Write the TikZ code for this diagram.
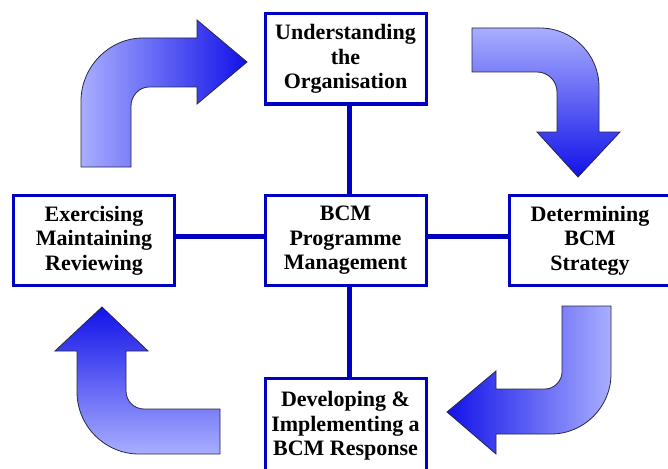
\documentclass[tikz,border=0pt]{standalone}
\usepackage{fontspec}
\setmainfont{Liberation Serif}
\usepackage{tikz}
\usetikzlibrary{positioning}
\definecolor{boxblue}{RGB}{0,0,195}
\definecolor{arrowlight}{RGB}{168,174,255}
\definecolor{arrowdark}{RGB}{18,18,232}
\definecolor{arrowline}{RGB}{40,40,70}

\begin{document}
\begin{tikzpicture}
      [x=1pt, y=-1pt,
      box style/.style={draw=boxblue, line width=3pt, rectangle, align=center, fill=white,
        minimum width=161pt, minimum height=90pt, inner sep=2pt,
        font=\fontsize{22}{24.5}\selectfont\bfseries},
      link style/.style={draw=boxblue, line width=5pt},
      arrow style/.style={draw=arrowline, line width=0.8pt, line join=miter},
      ]
      \useasboundingbox (0,0) rectangle (668,468);

      \node[box style] (organisation) at (345.5,59) {Understanding\\the\\Organisation};
      \node[box style] (programme) at (345.5,240.5) {BCM\\Programme\\Management};
      \node[box style] (exercising) at (94,240.5) {Exercising\\Maintaining\\Reviewing};
      \node[box style] (strategy) at (590,240.5) {Determining\\BCM\\Strategy};
      \node[box style, minimum height=95pt] (response) at (345.5,426) {Developing \&\\Implementing a\\BCM Response};

      \draw[link style] ([xshift=4pt]organisation.south) -- ([xshift=4pt]programme.north);
      \draw[link style] ([xshift=4pt]programme.south) -- ([xshift=4pt]response.north);
      \draw[link style] ([yshift=4.5pt]exercising.east) -- ([yshift=4.5pt]programme.west);
      \draw[link style] ([yshift=4.5pt]programme.east) -- ([yshift=4.5pt]strategy.west);

      \shade[arrow style, left color=arrowlight, right color=arrowdark]
        (81,167) -- (81,101) .. controls (81,67) and (109,38) .. (143,38) -- (197,38)
        -- (197,20) -- (247,62) -- (197,104) -- (197,87) -- (149,87)
        .. controls (139,87) and (131,96) .. (131,106) -- (131,167) -- cycle;
      \shade[arrow style, top color=arrowlight, bottom color=arrowdark]
        (472,28) -- (540,28) .. controls (572.6,28) and (599,54.4) .. (599,87) -- (599,132)
        -- (620,132) -- (578,177) -- (537,132) -- (557,132) -- (557,92)
        .. controls (557,81) and (548,72) .. (537,72) -- (472,72) -- cycle;
      \shade[arrow style, left color=arrowdark, right color=arrowlight]
        (611,306) -- (611,374) .. controls (611,407) and (584,434) .. (551,434) -- (496,434)
        -- (496,454) -- (447,412) -- (496,371) -- (496,389) -- (545,389)
        .. controls (554,389) and (562,381) .. (562,372) -- (562,306) -- cycle;
      \shade[arrow style, top color=arrowdark, bottom color=arrowlight]
        (220,454) -- (139,454) .. controls (105,454) and (77,426) .. (77,392) -- (77,351)
        -- (55,351) -- (102,307) -- (148,351) -- (126,351) -- (126,391)
        .. controls (126,401) and (134,409) .. (144,409) -- (220,409) -- cycle;
    \end{tikzpicture}
\end{document}
